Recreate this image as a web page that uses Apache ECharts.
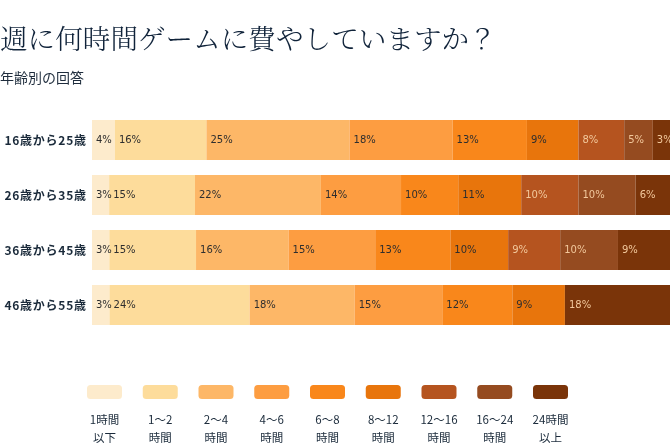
<!doctype html>
<html lang="ja">
  <head>
    <meta charset="utf-8">
    <title>週に何時間ゲームに費やしていますか？</title>
    <script src="https://cdn.jsdelivr.net/npm/echarts@6.0.0/dist/echarts.min.js"></script>
    <style>
      html, body {
        width: 100%;
        height: 100%;
        margin: 0;
        background: #fff;
      }

      #chart {
        width: 670px;
        height: 446px;
      }
    </style>
  </head>
  <body>
    <div id="chart"></div>
    <script>
      // age groups (rows, top to bottom)
      const ageGroups = ['16歳から25歳', '26歳から35歳', '36歳から45歳', '46歳から55歳'];

      // hour bins (stack order, left to right)
      const hourBins = ['1時間以下', '1〜2時間', '2〜4時間', '4〜6時間', '6〜8時間',
                        '8〜12時間', '12〜16時間', '16〜24時間', '24時間以上'];
      const binLabels = ['1時間\n以下', '1〜2\n時間', '2〜4\n時間', '4〜6\n時間', '6〜8\n時間',
                         '8〜12\n時間', '12〜16\n時間', '16〜24\n時間', '24時間\n以上'];

      // answers per age group, in % (one value per hour bin)
      const age16to25 = [4, 16, 25, 18, 13, 9, 8, 5, 3];
      const age26to35 = [3, 15, 22, 14, 10, 11, 10, 10, 6];
      const age36to45 = [3, 15, 16, 15, 13, 10, 9, 10, 9];
      const age46to55 = [3, 24, 18, 15, 12, 9, 0, 0, 18];
      const rows = [age16to25, age26to35, age36to45, age46to55];

      const colors = ['#fdebcc', '#fddc9b', '#fdb767', '#fd9d41', '#f9871b',
                      '#e8750c', '#b5541f', '#954b20', '#7a3409'];
      const darkLabel = '#2e2e2e';
      const lightLabel = '#f2c89c';

      // rounded answers don't add up to exactly 100, so each row is scaled to fill the bar
      const totals = rows.map(r => r.reduce((a, b) => a + b, 0));

      const series = hourBins.map((name, i) => ({
        name: name,
        type: 'bar',
        stack: 'total',
        barWidth: 40,
        itemStyle: { color: colors[i] },
        label: {
          show: true,
          position: 'insideLeft',
          distance: 4,
          fontFamily: 'DejaVu Sans',
          fontSize: 10,
          color: i >= 6 ? lightLabel : darkLabel,
          formatter: p => p.data.raw ? p.data.raw + '%' : ''
        },
        emphasis: { disabled: true },
        data: rows.map((r, k) => ({ value: r[i] / totals[k] * 100, raw: r[i] }))
      }));

      const legendLeft0 = 87;
      const legendStep = 55.75;
      const legends = hourBins.map((name, i) => ({
        data: [name],
        left: legendLeft0 + legendStep * i,
        top: 385,
        padding: 0,
        itemWidth: 35,
        itemHeight: 14,
        icon: 'roundRect',
        selectedMode: false,
        formatter: () => ''
      }));

      const legendTexts = binLabels.map((t, i) => ({
        type: 'text',
        x: legendLeft0 + legendStep * i + 17.5,
        y: 411,
        style: {
          text: t,
          align: 'center',
          fill: '#1a2a3a',
          font: '11.5px "Noto Sans CJK JP"',
          lineHeight: 18
        }
      }));

      const chart = echarts.init(document.getElementById('chart'), null, { renderer: 'canvas' });

      chart.setOption({
        animation: false,
        title: [
          {
            text: '週に何時間ゲームに費やしていますか？',
            left: 0,
            top: 25,
            padding: 0,
            textStyle: {
              fontFamily: '"Noto Serif CJK JP", "Noto Sans CJK JP", serif',
              fontWeight: 300,
              fontSize: 27.6,
              color: '#10233a'
            }
          },
          {
            text: '年齢別の回答',
            left: 0,
            top: 71,
            padding: 0,
            textStyle: {
              fontFamily: '"Noto Sans CJK JP"',
              fontWeight: 'normal',
              fontSize: 14,
              color: '#1f2d3d'
            }
          }
        ],
        grid: {
          left: 92,
          right: 0,
          top: 112.5,
          height: 220,
          containLabel: false
        },
        xAxis: {
          type: 'value',
          min: 0,
          max: 100,
          show: false
        },
        yAxis: {
          type: 'category',
          inverse: true,
          data: ageGroups,
          axisLine: { show: false },
          axisTick: { show: false },
          axisLabel: {
            margin: 6,
            fontFamily: '"Noto Sans CJK JP"',
            fontWeight: 'bold',
            fontSize: 12,
            color: '#1a2a3a',
            // the reference spaces its row labels out a little
            formatter: v => v.split('').join('\u200a')
          }
        },
        legend: legends,
        graphic: legendTexts,
        series: series
      });
    </script>
  </body>
</html>
